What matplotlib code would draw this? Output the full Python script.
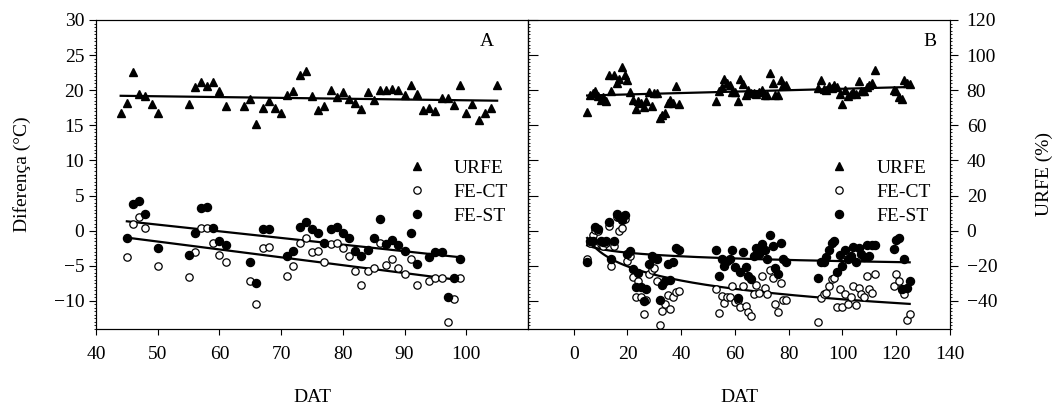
import numpy as np
import matplotlib.pyplot as plt
from matplotlib.ticker import MultipleLocator, FixedLocator
from matplotlib.lines import Line2D

plt.rcParams['font.family'] = 'Liberation Serif'
plt.rcParams['font.size'] = 14

# --- Experimento A (DAT 44-105) ---
dias_urfe_a = list(range(44, 51)) + list(range(55, 62)) + list(range(64, 106))
urfe_a = [66.8, 72.8, 90.4, 77.6, 76.8, 72.0, 66.8,
          72.4, 82.0, 84.8, 82.4, 84.8, 79.6, 70.8,
          71.2, 74.8, 60.8, 69.6, 74.0, 69.6, 66.8, 77.2, 79.6, 88.4,
          90.8, 76.8, 68.8, 71.2, 80.4, 76.4, 78.8, 75.2, 72.8, 69.2,
          78.8, 74.4, 80.0, 80.4, 80.8, 80.4, 77.2, 83.2, 78.0, 68.8,
          69.6, 68.4, 75.6, 75.6, 71.6, 82.8, 66.8, 72.0, 62.8, 66.8,
          69.6, 83.2]

dias_fe_a = [45, 46, 47, 48, 50, 55, 56, 57, 58, 59, 60, 61, 65, 66, 67, 68] \
    + list(range(71, 93)) + list(range(94, 100))
fe_ct_a = [-3.7, 0.9, 2.0, 0.4, -5.1, -6.6, -3.1, 0.4, 0.4, -1.8, -3.4, -4.5,
           -7.2, -10.4, -2.5, -2.3,
           -6.5, -5.0, -1.7, -1.0, -3.1, -2.9, -4.5, -1.9, -1.7, -2.5, -3.6,
           -5.7, -7.7, -5.7, -5.3, -1.8, -4.9, -4.0, -5.3, -6.1, -4.0, -7.8,
           -7.2, -6.8, -6.7, -13.0, -9.7, -6.7]
fe_st_a = [-1.0, 3.8, 4.2, 2.4, -2.5, -3.5, -0.4, 3.2, 3.4, 0.4, -1.5, -2.1,
           -4.5, -7.5, 0.3, 0.2,
           -3.6, -2.9, 0.5, 1.3, 0.2, -0.4, -1.7, 0.3, 0.5, -0.3, -1.1,
           -2.9, -3.6, -2.7, -1.1, 1.6, -1.9, -1.3, -2.0, -2.9, -0.4, -4.8,
           -3.8, -3.1, -3.1, -9.5, -6.7, -4.0]

# --- Experimento B (DAT 5-125) ---
dias_b = list(range(5, 40)) + list(range(53, 80)) + list(range(91, 113)) + list(range(119, 126))
urfe_b = [67.5, 77.0, 78.5, 79.7, 76.6, 74.5, 76.0, 73.6, 88.4, 79.3,
          88.8, 84.2, 86.5, 93.3, 88.8, 86.1, 78.9, 74.7, 69.4, 74.0,
          72.6, 70.3, 74.0, 78.9, 70.9, 78.5, 78.5, 64.4, 66.0, 67.1,
          72.8, 74.7, 72.8, 82.5, 72.2,
          74.0, 79.7, 81.6, 86.5, 84.2, 83.1, 78.9, 78.9, 74.0, 86.5,
          83.5, 77.0, 80.0, 78.5, 78.5, 78.1, 78.9, 80.4, 77.0, 77.4,
          89.9, 84.2, 77.4, 77.0, 86.1, 82.7, 83.1,
          81.2, 85.7, 80.8, 80.0, 82.3, 81.2, 82.7, 81.6, 78.1, 72.4,
          80.0, 76.6, 77.8, 78.9, 77.8, 85.0, 79.3, 79.7, 81.6, 83.1,
          84.2, 91.4,
          80.4, 79.7, 76.2, 75.1, 85.7, 84.2, 83.5]
fe_ct_b = [-4.0, -1.7, -0.6, 0.1, 0.0, -1.9, -2.2, -1.8, 0.7, -5.1,
           -2.2, 2.0, 0.0, 0.4, 1.7, -4.3, -3.6, -6.6, -9.5, -7.1,
           -9.5, -11.9, -9.9, -6.1, -5.6, -5.3, -7.1, -13.4, -11.4, -10.5,
           -9.2, -11.1, -9.4, -8.7, -8.6,
           -8.3, -11.7, -9.3, -10.3, -9.4, -9.4, -7.9, -10.2, -9.8, -10.9,
           -7.9, -10.7, -11.6, -12.2, -9.0, -7.7, -8.9, -6.5, -8.1, -9.0,
           -5.6, -6.7, -10.5, -11.6, -7.4, -9.9, -9.8,
           -13.0, -9.6, -9.0, -8.9, -7.9, -6.9, -6.7, -10.9, -8.3, -10.8,
           -9.0, -10.5, -9.5, -7.9, -10.6, -8.1, -9.0, -9.4, -6.4, -8.3,
           -8.9, -6.2,
           -7.9, -6.2, -7.2, -8.5, -9.0, -12.7, -11.8]
fe_st_b = [-4.5, -1.4, -1.4, 0.5, 0.2, -1.4, -1.6, -1.4, 1.3, -4.1,
           -1.4, 2.4, 1.9, 1.5, 2.2, -3.3, -2.9, -5.4, -8.0, -6.0,
           -8.0, -10.0, -8.3, -4.7, -3.6, -3.9, -4.1, -9.9, -7.7, -7.1,
           -4.7, -7.0, -4.4, -2.4, -2.7,
           -2.8, -6.5, -4.1, -5.0, -4.3, -4.1, -2.7, -5.2, -9.6, -5.9,
           -3.1, -5.2, -6.5, -6.9, -3.6, -2.4, -3.3, -1.9, -2.7, -4.0,
           -0.6, -2.2, -5.3, -6.2, -1.8, -4.1, -4.4,
           -6.7, -4.5, -4.5, -3.7, -2.7, -1.7, -1.4, -5.9, -3.5, -5.0,
           -2.8, -4.1, -3.6, -2.3, -4.4, -2.4, -3.3, -3.8, -2.0, -3.6,
           -2.0, -2.0,
           -2.6, -1.3, -1.0, -8.3, -4.1, -8.1, -7.1]

W, H = 1059, 412
fig = plt.figure(figsize=(W / 100, H / 100), dpi=100)


def eixo(x0, x1, y0, y1):
    # posicao em pixels -> fracao da figura
    return fig.add_axes([x0 / W, 1 - y1 / H, (x1 - x0) / W, (y1 - y0) / H])


axA = eixo(96, 528, 20, 329)
axB = eixo(528, 950, 20, 329)
axA2 = axA.twinx()
axB2 = axB.twinx()

tri = dict(marker='^', ls='none', color='k', ms=6)
aberto = dict(marker='o', ls='none', mfc='white', mec='k', mew=0.9, ms=5.3)
cheio = dict(marker='o', ls='none', color='k', ms=5.8)
linha = dict(color='k', lw=1.6)


def tendencia_lin(x, y):
    x = np.asarray(x, float)
    c = np.polyfit(x, y, 1)
    xs = np.linspace(x.min(), x.max(), 100)
    return xs, np.polyval(c, xs)


def tendencia_log(x, y):
    x = np.asarray(x, float)
    c = np.polyfit(np.log(x), y, 1)
    xs = np.linspace(x.min(), x.max(), 200)
    return xs, np.polyval(c, np.log(xs))


# painel A
axA.plot(dias_fe_a, fe_ct_a, **aberto, zorder=3)
axA.plot(dias_fe_a, fe_st_a, **cheio, zorder=3)
axA.plot(*tendencia_lin(dias_fe_a, fe_ct_a), **linha)
axA.plot(*tendencia_lin(dias_fe_a, fe_st_a), **linha)
axA2.plot(dias_urfe_a, urfe_a, **tri, zorder=3)
axA2.plot(*tendencia_lin(dias_urfe_a, urfe_a), **linha)

# painel B
axB.plot(dias_b, fe_ct_b, **aberto, zorder=3)
axB.plot(dias_b, fe_st_b, **cheio, zorder=3)
axB.plot(*tendencia_log(dias_b, fe_ct_b), **linha)
axB.plot(*tendencia_log(dias_b, fe_st_b), **linha)
axB2.plot(dias_b, urfe_b, **tri, zorder=3)
axB2.plot(*tendencia_lin(dias_b, urfe_b), **linha)

for ax in (axA, axB):
    ax.set_ylim(-14, 30)
for ax in (axA2, axB2):
    ax.set_ylim(-56, 120)
axA.set_xlim(40, 110)
axB.set_xlim(-17, 140)

for ax in (axA, axB, axA2, axB2):
    for s in ax.spines.values():
        s.set_linewidth(0.8)

# eixos e marcas
axA.xaxis.set_major_locator(FixedLocator(range(40, 101, 10)))
axA.yaxis.set_major_locator(MultipleLocator(5))
axA.yaxis.set_minor_locator(MultipleLocator(0.5))
axA.tick_params(axis='x', direction='out', length=4, width=0.8, top=False)
axA.tick_params(axis='y', which='major', direction='out', length=5, width=0.8)
axA.tick_params(axis='y', which='minor', direction='out', length=1.5, width=0.6)
axA2.tick_params(right=False, labelright=False, which='both')

axB.xaxis.set_major_locator(FixedLocator(range(0, 141, 20)))
axB.yaxis.set_major_locator(MultipleLocator(5))
axB.yaxis.set_minor_locator(MultipleLocator(0.5))
axB.tick_params(axis='x', direction='out', length=4, width=0.8, top=False)
axB.tick_params(axis='y', which='major', direction='in', length=7, width=0.8, labelleft=False)
axB.tick_params(axis='y', which='minor', direction='in', length=1.5, width=0.6)
axB2.yaxis.set_major_locator(MultipleLocator(20))
axB2.yaxis.set_minor_locator(MultipleLocator(2))
axB2.tick_params(axis='y', which='major', direction='out', length=6, width=0.8, pad=6)
axB2.tick_params(axis='y', which='minor', direction='out', length=1.5, width=0.6)

for ax in (axA, axB):
    ax.tick_params(axis='x', pad=8)
    ax.set_xlabel('DAT', labelpad=19)

axA.set_ylabel('Diferença (°C)', labelpad=16)
axB2.set_ylabel('URFE (%)', labelpad=28)

axA.text(0.905, 0.93, 'A', transform=axA.transAxes, ha='center', va='center')
axB.text(0.953, 0.93, 'B', transform=axB.transAxes, ha='center', va='center')

handles = [Line2D([], [], **tri), Line2D([], [], **aberto), Line2D([], [], **cheio)]
rotulos = ['URFE', 'FE-CT', 'FE-ST']
for ax, x0 in ((axA2, 0.72), (axB2, 0.715)):
    ax.legend(handles, rotulos, loc='upper left', bbox_to_anchor=(x0, 0.55),
              frameon=False, borderpad=0, borderaxespad=0, handlelength=1,
              handletextpad=1.4, labelspacing=0.33, fontsize=14)

plt.savefig('out.png', dpi=100)
